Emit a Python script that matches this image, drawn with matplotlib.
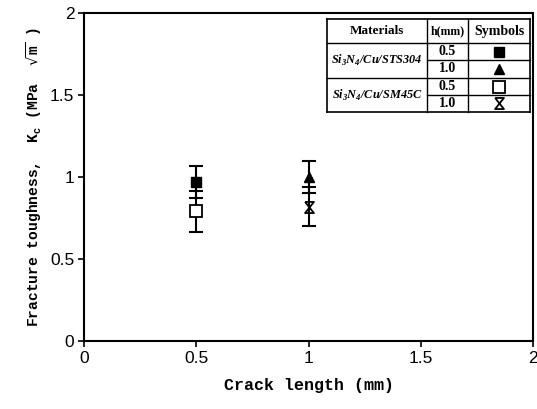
import matplotlib
matplotlib.use("Agg")
import matplotlib.pyplot as plt
from matplotlib.lines import Line2D
from matplotlib.path import Path

# ---- data ----
crack_len = [0.5, 1.0, 0.5, 1.0]
toughness = [0.97, 1.00, 0.79, 0.82]
errors = [0.10, 0.10, 0.125, 0.12]
series_labels = ["STS304 h0.5", "STS304 h1.0", "SM45C h0.5", "SM45C h1.0"]
materials = ["Si$_\\mathregular{3}$N$_\\mathregular{4}$/Cu/STS304",
             "Si$_\\mathregular{3}$N$_\\mathregular{4}$/Cu/SM45C"]
thickness = ["0.5", "1.0", "0.5", "1.0"]
xticks = [0, 0.5, 1, 1.5, 2]
xticklabels = ["0", "0.5", "1", "1.5", "2"]
yticks = [0, 0.5, 1, 1.5, 2]
yticklabels = ["0", "0.5", "1", "1.5", "2"]

hourglass = Path([(-0.8, 1), (0.8, 1), (-0.8, -1), (0.8, -1), (-0.8, 1)])
styles = [
    dict(marker="s", ms=7, mfc="black", mec="black"),
    dict(marker="^", ms=7, mfc="black", mec="black"),
    dict(marker="s", ms=8, mfc="white", mec="black", mew=1.3),
    dict(marker=hourglass, ms=8, mfc="none", mec="black", mew=1.3),
]

W, H = 537, 409
fig = plt.figure(figsize=(W / 100, H / 100), dpi=100)
ax = fig.add_axes([84 / W, 1 - 341 / H, (533 - 84) / W, (341 - 13) / H])

for x, y, e, st in zip(crack_len, toughness, errors, styles):
    ax.errorbar([x], [y], yerr=[e], fmt="none", ecolor="black", elinewidth=1.5,
                capsize=5, capthick=1.5, zorder=2)
    ax.plot([x], [y], linestyle="none", zorder=3, **st)

ax.set_xlim(0, 2)
ax.set_ylim(0, 2)
ax.set_xticks(xticks)
ax.set_xticklabels(xticklabels)
ax.set_yticks(yticks)
ax.set_yticklabels(yticklabels)
for lab in ax.get_xticklabels() + ax.get_yticklabels():
    lab.set_fontfamily("Liberation Sans")
    lab.set_fontsize(12.5)
ax.tick_params(direction="out", length=4, width=1.2, pad=3)
for s in ax.spines.values():
    s.set_linewidth(1.5)

ax.set_xlabel("Crack length (mm)", fontfamily="Liberation Mono", fontweight="bold",
              fontsize=12, labelpad=9)
ax.set_ylabel("Fracture toughness,  K$_\\mathregular{c}$ (MPa  $\\sqrt{\\mathregular{m}}$ )",
              fontfamily="Liberation Mono", fontweight="bold", fontsize=10.5, labelpad=4)

# ---- table legend (pixel coords) ----
def fx(px):
    return px / W

def fy(py):
    return 1 - py / H

def hline(x0, x1, y, lw=1.0):
    fig.add_artist(Line2D([fx(x0), fx(x1)], [fy(y), fy(y)], color="black", lw=lw))

def vline(x, y0, y1, lw=1.0):
    fig.add_artist(Line2D([fx(x), fx(x)], [fy(y0), fy(y1)], color="black", lw=lw))

L, C1, C2, R = 327, 427, 468, 530
T, HB = 19, 43
rows = [43, 60, 78, 95, 112]

hline(L, R, T, 1.2)
hline(L, R, rows[-1], 1.2)
hline(L, R, HB, 1.0)
hline(L, R, rows[2], 1.0)
for r in (rows[1], rows[3]):
    hline(C1, R, r, 1.0)
vline(L, T, rows[-1], 1.2)
vline(R, T, rows[-1], 1.2)
vline(C1, T, rows[-1], 1.0)
vline(C2, T, rows[-1], 1.0)

serif = "Liberation Serif"
fig.text(fx((L + C1) / 2), fy((T + HB) / 2), "Materials", ha="center", va="center",
         fontfamily=serif, fontweight="bold", fontsize=9.5)
fig.text(fx((C1 + C2) / 2), fy((T + HB) / 2), "h(mm)", ha="center", va="center",
         fontfamily=serif, fontweight="bold", fontsize=8.5)
fig.text(fx((C2 + R) / 2), fy((T + HB) / 2), "Symbols", ha="center", va="center",
         fontfamily=serif, fontweight="bold", fontsize=10)
for i, m in enumerate(materials):
    yc = (rows[2 * i] + rows[2 * i + 2]) / 2
    fig.text(fx((L + C1) / 2), fy(yc), m, ha="center", va="center",
             fontfamily=serif, fontweight="bold", fontstyle="italic", fontsize=8.8)
for i, (h, st) in enumerate(zip(thickness, styles)):
    yc = (rows[i] + rows[i + 1]) / 2
    fig.text(fx((C1 + C2) / 2), fy(yc), h, ha="center", va="center",
             fontfamily=serif, fontweight="bold", fontsize=10)
    fig.add_artist(Line2D([fx((C2 + R) / 2)], [fy(yc)], linestyle="none", **st))

fig.savefig("out.png", dpi=100)
